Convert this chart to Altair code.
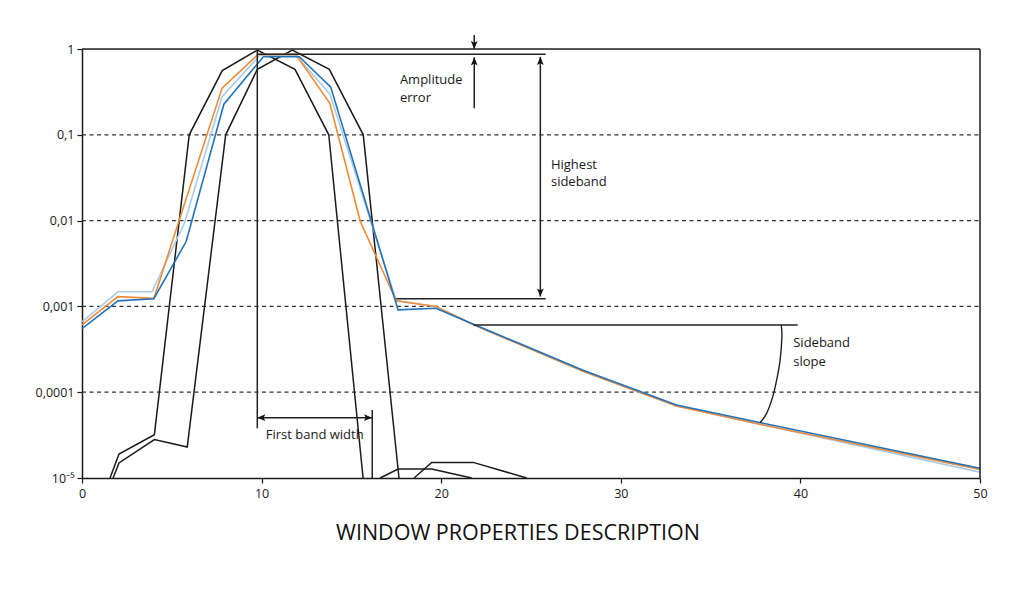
import altair as alt
import pandas as pd

# ---------------- data ----------------
orange_x = [0, 2.0, 4.0, 7.8, 9.8, 11.9, 13.8, 15.5, 17.5, 19.7, 21.8, 27.9, 33.1, 37.8, 50]
orange_y = [6.1e-4, 1.3e-3, 1.24e-3, 0.35, 0.865, 0.865, 0.233, 0.0097, 1.16e-3, 1.0e-3, 6.1e-4, 1.75e-4, 6.9e-5, 4.2e-5, 1.26e-5]

light_x = [0, 2.0, 3.9, 5.7, 7.8, 9.9, 11.9, 13.8, 17.5, 19.7, 21.8, 27.9, 33.1, 37.8, 50]
light_y = [6.6e-4, 1.48e-3, 1.48e-3, 9.3e-3, 0.278, 0.845, 0.845, 0.30, 1.16e-3, 1.0e-3, 6.1e-4, 1.75e-4, 6.9e-5, 4.2e-5, 1.17e-5]

dark_x = [0, 2.0, 4.0, 5.8, 7.9, 10.1, 12.1, 13.85, 17.6, 19.7, 21.8, 27.9, 33.1, 37.8, 50]
dark_y = [5.5e-4, 1.16e-3, 1.23e-3, 5.7e-3, 0.227, 0.813, 0.813, 0.36, 9.1e-4, 9.5e-4, 6.2e-4, 1.8e-4, 7.1e-5, 4.4e-5, 1.3e-5]

black_a_x = [1.56, 2.06, 4.03, 5.97, 7.81, 9.76, 11.86, 13.74, 15.65]
black_a_y = [1e-5, 1.9e-5, 3.2e-5, 0.1, 0.56, 0.97, 0.58, 0.1, 1e-5]
black_a_side_x = [16.6, 17.6, 19.47, 21.7]
black_a_side_y = [1e-5, 1.27e-5, 1.27e-5, 1e-5]

black_b_x = [1.73, 2.06, 4.03, 5.86, 8.0, 9.76, 11.71, 13.77, 15.66, 17.65]
black_b_y = [1e-5, 1.5e-5, 2.8e-5, 2.3e-5, 0.1, 0.58, 0.97, 0.58, 0.1, 1e-5]
black_b_side_x = [18.49, 19.47, 21.78, 24.76]
black_b_side_y = [1e-5, 1.52e-5, 1.52e-5, 1e-5]

x_ticks = [0, 10, 20, 30, 40, 50]
y_ticks = [1, 0.1, 0.01, 0.001, 0.0001, 0.00001]
grid_values = [0.1, 0.01, 0.001, 0.0001]

# annotation segments (id, x list, y list)
annot_segments = {
    "frame_top": ([0, 50], [1.0, 1.0]),
    "frame_right": ([50, 50], [1.0, 1e-5]),
    "amp_top": ([9.8, 25.82], [0.868, 0.868]),
    "amp_down": ([21.84, 21.84], [1.456, 1.0]),
    "amp_up": ([21.84, 21.84], [0.204, 0.80]),
    "hs_vert": ([25.52, 25.52], [0.81, 1.30e-3]),
    "hs_bottom": ([17.5, 25.82], [1.23e-3, 1.23e-3]),
    "slope_line": ([21.8, 39.85], [6.07e-4, 6.07e-4]),
    "fbw_left": ([9.76, 9.76], [1.0, 3.8e-5]),
    "fbw_arrow": ([9.76, 16.15], [5.05e-5, 5.05e-5]),
    "fbw_right": ([16.16, 16.16], [6.2e-5, 1e-5]),
}
arc_x = [38.93, 38.97, 38.87, 38.68, 38.46, 38.12, 37.75]
arc_y = [6.07e-4, 4.43e-4, 2.37e-4, 1.39e-4, 8.87e-5, 5.67e-5, 4.41e-5]

arrow_x = [21.84, 21.84, 25.52, 25.52, 9.76, 16.15]
arrow_y = [1.0, 0.80, 0.81, 1.30e-3, 5.05e-5, 5.05e-5]
arrow_dir = ["down", "up", "up", "down", "left", "right"]

label_text = ["Amplitude", "error", "Highest", "sideband", "Sideband", "slope", "First band width"]
label_x = [17.7, 17.7, 26.11, 26.11, 39.6, 39.6, 10.23]
label_y = [0.435, 0.268, 0.0446, 0.0284, 3.7e-4, 2.27e-4, 3.2e-5]

# ---------------- tables ----------------
rows = []
for name, xs, ys in [("light", light_x, light_y), ("orange", orange_x, orange_y), ("dark", dark_x, dark_y)]:
    for i, (a, b) in enumerate(zip(xs, ys)):
        rows.append({"series": name, "x": a, "y": b, "i": i})
curves = pd.DataFrame(rows)

rows = []
for name, xs, ys in [("a", black_a_x, black_a_y), ("a_side", black_a_side_x, black_a_side_y),
                     ("b", black_b_x, black_b_y), ("b_side", black_b_side_x, black_b_side_y)]:
    for i, (a, b) in enumerate(zip(xs, ys)):
        rows.append({"seg": name, "x": a, "y": b, "i": i})
blacks = pd.DataFrame(rows)

rows = []
for name, (xs, ys) in annot_segments.items():
    for i, (a, b) in enumerate(zip(xs, ys)):
        rows.append({"seg": name, "x": a, "y": b, "i": i})
annots = pd.DataFrame(rows)
arc = pd.DataFrame({"x": arc_x, "y": arc_y, "i": list(range(len(arc_x)))})
arrows = pd.DataFrame({"x": arrow_x, "y": arrow_y, "dir": arrow_dir})
labels = pd.DataFrame({"x": label_x, "y": label_y, "text": label_text})
grid = pd.DataFrame({"y": grid_values})

# ---------------- encodings ----------------
FONT = "Open Sans"
INK = "#1a1a1a"
xscale = alt.Scale(domain=[0, 50], nice=False, zero=False)
yscale = alt.Scale(type="log", domain=[1e-5, 1], nice=False)
xaxis = alt.Axis(values=x_ticks, grid=False, tickSize=5, labelPadding=4, domainColor=INK,
                 tickColor=INK, labelColor=INK, labelFont=FONT, labelFontSize=12.5, domainWidth=1.5,
                 tickWidth=1.2, title=None, labelFlush=False)
yaxis = alt.Axis(values=y_ticks, grid=False, tickSize=5, labelPadding=3, domainColor=INK,
                 tickColor=INK, labelColor=INK, labelFont=FONT, labelFontSize=12.5, domainWidth=1.5,
                 tickWidth=1.2, title=None, labelFlush=False,
                 labelExpr="datum.value > 0.5 ? '1' : datum.value > 0.05 ? '0,1' : datum.value > 0.005 ? '0,01' : datum.value > 0.0005 ? '0,001' : datum.value > 0.00005 ? '0,0001' : '10⁻⁵'")

X = lambda: alt.X("x:Q", scale=xscale, axis=xaxis)
Y = lambda: alt.Y("y:Q", scale=yscale, axis=yaxis)

grid_layer = alt.Chart(grid).mark_rule(color="#333333", strokeDash=[4, 3.5], strokeWidth=1.2).encode(
    y=Y(), x=alt.value(0), x2=alt.value(898)
)

black_layer = alt.Chart(blacks).mark_line(color=INK, strokeWidth=1.5).encode(
    x=X(), y=Y(), detail="seg:N", order="i:Q"
)

curve_layer = alt.Chart(curves).mark_line(strokeWidth=1.6).encode(
    x=X(), y=Y(), detail="series:N", order="i:Q",
    color=alt.Color("series:N", scale=alt.Scale(domain=["light", "orange", "dark"],
                                                range=["#a9cbea", "#f28a35", "#2272ba"]), legend=None),
)

annot_layer = alt.Chart(annots).mark_line(color="#222222", strokeWidth=1.5).encode(
    x=X(), y=Y(), detail="seg:N", order="i:Q"
)

arc_layer = alt.Chart(arc).mark_line(color="#222222", strokeWidth=1.4, interpolate="cardinal").encode(
    x=X(), y=Y(), order="i:Q"
)

arrow_layer = alt.Chart(arrows).mark_point(filled=True, opacity=1, color="#111111", size=260, strokeWidth=0).encode(
    x=X(), y=Y(),
    shape=alt.Shape("dir:N", legend=None, scale=alt.Scale(
        domain=["up", "down", "left", "right"],
        range=["M0,0L-0.42,1L0,0.78L0.42,1Z", "M0,0L-0.42,-1L0,-0.78L0.42,-1Z",
               "M0,0L1,-0.42L0.78,0L1,0.42Z", "M0,0L-1,-0.42L-0.78,0L-1,0.42Z"])),
)

label_layer = alt.Chart(labels).mark_text(align="left", baseline="middle", font=FONT, fontSize=13,
                                          color=INK).encode(x=X(), y=Y(), text="text:N")

chart = alt.layer(grid_layer, black_layer, curve_layer, annot_layer, arc_layer, arrow_layer, label_layer).properties(
    width=898, height=429,
    autosize=alt.AutoSizeParams(type="none"),
    padding={"left": 74, "top": 41, "right": 36, "bottom": 80},
    title=alt.Title("WINDOW PROPERTIES DESCRIPTION", orient="bottom", anchor="middle", font=FONT,
                    fontSize=21.5, fontWeight="normal", color="#111111", offset=23, dx=-13),
).configure_view(stroke=None).configure(background="white")

chart.save("out.html", embed_options={"renderer": "svg", "actions": False})
